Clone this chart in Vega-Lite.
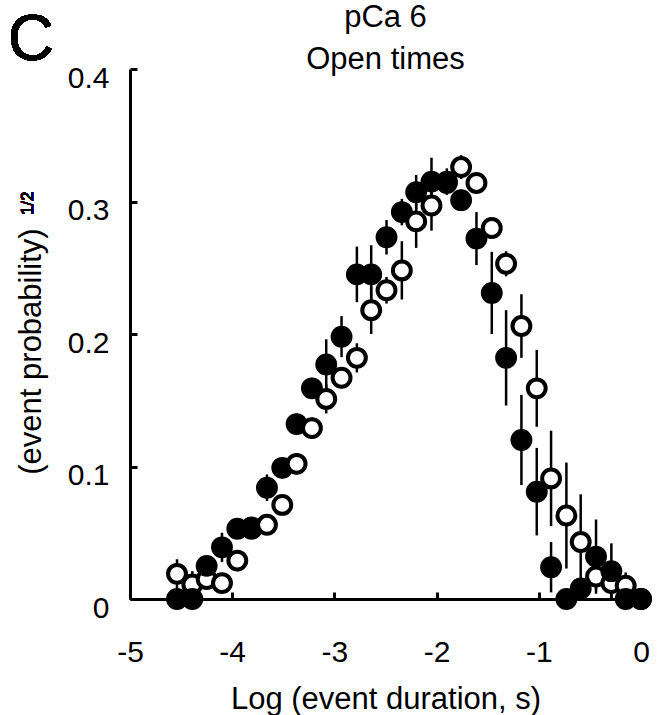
{
  "$schema": "https://vega.github.io/schema/vega-lite/v6.json",
  "width": 511,
  "height": 530,
  "autosize": "none",
  "padding": {"left": 130, "top": 69, "right": 17, "bottom": 116},
  "background": "white",
  "config": {"view": {"stroke": null}, "font": "Liberation Sans"},
  "title": {
    "text": ["pCa 6", "Open times"],
    "font": "Liberation Sans",
    "fontSize": 31,
    "fontWeight": "normal",
    "color": "black",
    "anchor": "middle",
    "frame": "group",
    "lineHeight": 42,
    "offset": -67
  },
  "data": {
    "values": [
      {"series": "open", "x": -4.54, "y": 0.019, "err": 0.011},
      {"series": "filled", "x": -4.54, "y": 0, "err": 0},
      {"series": "open", "x": -4.39, "y": 0.011, "err": 0.010},
      {"series": "filled", "x": -4.39, "y": 0, "err": 0},
      {"series": "open", "x": -4.25, "y": 0.015, "err": 0.006},
      {"series": "filled", "x": -4.25, "y": 0.025, "err": 0.006},
      {"series": "open", "x": -4.10, "y": 0.012, "err": 0.006},
      {"series": "filled", "x": -4.10, "y": 0.039, "err": 0.011},
      {"series": "open", "x": -3.95, "y": 0.029, "err": 0.008},
      {"series": "filled", "x": -3.95, "y": 0.053, "err": 0.006},
      {"series": "open", "x": -3.81, "y": 0.053, "err": 0.006},
      {"series": "filled", "x": -3.81, "y": 0.054, "err": 0.006},
      {"series": "open", "x": -3.66, "y": 0.056, "err": 0.006},
      {"series": "filled", "x": -3.66, "y": 0.084, "err": 0.010},
      {"series": "open", "x": -3.51, "y": 0.071, "err": 0.006},
      {"series": "filled", "x": -3.51, "y": 0.099, "err": 0.008},
      {"series": "open", "x": -3.37, "y": 0.102, "err": 0.008},
      {"series": "filled", "x": -3.37, "y": 0.132, "err": 0.008},
      {"series": "open", "x": -3.22, "y": 0.129, "err": 0.008},
      {"series": "filled", "x": -3.22, "y": 0.159, "err": 0.008},
      {"series": "open", "x": -3.08, "y": 0.151, "err": 0.011},
      {"series": "filled", "x": -3.08, "y": 0.177, "err": 0.019},
      {"series": "open", "x": -2.93, "y": 0.167, "err": 0.008},
      {"series": "filled", "x": -2.93, "y": 0.198, "err": 0.0155},
      {"series": "open", "x": -2.78, "y": 0.182, "err": 0.011},
      {"series": "filled", "x": -2.78, "y": 0.245, "err": 0.021},
      {"series": "open", "x": -2.64, "y": 0.218, "err": 0.018},
      {"series": "filled", "x": -2.64, "y": 0.245, "err": 0.022},
      {"series": "open", "x": -2.49, "y": 0.233, "err": 0.010},
      {"series": "filled", "x": -2.49, "y": 0.273, "err": 0.013},
      {"series": "open", "x": -2.34, "y": 0.248, "err": 0.022},
      {"series": "filled", "x": -2.34, "y": 0.292, "err": 0.010},
      {"series": "open", "x": -2.20, "y": 0.285, "err": 0.020},
      {"series": "filled", "x": -2.20, "y": 0.307, "err": 0.013},
      {"series": "open", "x": -2.05, "y": 0.297, "err": 0.019},
      {"series": "filled", "x": -2.05, "y": 0.315, "err": 0.018},
      {"series": "open", "x": -1.90, "y": 0.314, "err": 0.008},
      {"series": "filled", "x": -1.90, "y": 0.315, "err": 0.010},
      {"series": "open", "x": -1.76, "y": 0.326, "err": 0.009},
      {"series": "filled", "x": -1.76, "y": 0.301, "err": 0.008},
      {"series": "open", "x": -1.61, "y": 0.314, "err": 0.006},
      {"series": "filled", "x": -1.61, "y": 0.272, "err": 0.020},
      {"series": "open", "x": -1.46, "y": 0.280, "err": 0.008},
      {"series": "filled", "x": -1.46, "y": 0.231, "err": 0.031},
      {"series": "open", "x": -1.32, "y": 0.253, "err": 0.0095},
      {"series": "filled", "x": -1.32, "y": 0.182, "err": 0.036},
      {"series": "open", "x": -1.17, "y": 0.206, "err": 0.024},
      {"series": "filled", "x": -1.17, "y": 0.120, "err": 0.034},
      {"series": "open", "x": -1.02, "y": 0.159, "err": 0.029},
      {"series": "filled", "x": -1.02, "y": 0.081, "err": 0.033},
      {"series": "open", "x": -0.88, "y": 0.091, "err": 0.036},
      {"series": "filled", "x": -0.88, "y": 0.024, "err": 0.019},
      {"series": "open", "x": -0.73, "y": 0.063, "err": 0.040},
      {"series": "filled", "x": -0.73, "y": 0, "err": 0},
      {"series": "open", "x": -0.59, "y": 0.043, "err": 0.036},
      {"series": "filled", "x": -0.59, "y": 0.008, "err": 0.008},
      {"series": "open", "x": -0.44, "y": 0.017, "err": 0.010},
      {"series": "filled", "x": -0.44, "y": 0.032, "err": 0.028},
      {"series": "open", "x": -0.29, "y": 0.012, "err": 0.012},
      {"series": "filled", "x": -0.29, "y": 0.021, "err": 0.021},
      {"series": "open", "x": -0.15, "y": 0.010, "err": 0.010},
      {"series": "filled", "x": -0.15, "y": 0, "err": 0},
      {"series": "open", "x": 0.0, "y": 0, "err": 0},
      {"series": "filled", "x": 0.0, "y": 0, "err": 0}
    ]
  },
  "encoding": {
    "x": {
      "field": "x",
      "type": "quantitative",
      "scale": {"domain": [-5, 0], "nice": false, "zero": false},
      "axis": {
        "values": [-5, -4, -3, -2, -1, 0],
        "title": "Log (event duration, s)",
        "labelExpr": "'' + datum.value",
        "grid": false,
        "domainColor": "black",
        "domainWidth": 3,
        "tickColor": "black",
        "tickWidth": 3,
        "tickSize": -7,
        "labelFont": "Liberation Sans",
        "labelFontSize": 30,
        "labelColor": "black",
        "labelBaseline": "top",
        "labelPadding": 45,
        "labelFlush": false,
        "labelOverlap": false,
        "titleFont": "Liberation Sans",
        "titleFontSize": 31,
        "titleFontWeight": "normal",
        "titleColor": "black",
        "titleBaseline": "alphabetic",
        "titleY": 109
      }
    },
    "y": {
      "field": "y",
      "type": "quantitative",
      "scale": {"domain": [0, 0.4], "nice": false, "zero": false},
      "axis": {
        "values": [0, 0.1, 0.2, 0.3, 0.4],
        "title": "(event probability)",
        "labelExpr": "'' + datum.value",
        "grid": false,
        "domainColor": "black",
        "domainWidth": 3,
        "tickColor": "black",
        "tickWidth": 3,
        "tickSize": -7,
        "labelFont": "Liberation Sans",
        "labelFontSize": 30,
        "labelColor": "black",
        "labelPadding": 28,
        "labelOffset": 9,
        "labelFlush": false,
        "labelOverlap": false,
        "titleFont": "Liberation Sans",
        "titleFontSize": 31,
        "titleFontWeight": "normal",
        "titleColor": "black",
        "titleAngle": 270,
        "titleAlign": "center",
        "titleBaseline": "alphabetic",
        "titleX": -90,
        "titleY": 282
      }
    }
  },
  "layer": [
    {
      "mark": {"type": "errorbar", "color": "black", "thickness": 2.5, "opacity": 1},
      "encoding": {"yError": {"field": "err"}}
    },
    {
      "mark": {"type": "point", "shape": "circle", "filled": true, "size": 320, "stroke": "black", "strokeWidth": 4, "opacity": 1, "fillOpacity": 1, "strokeOpacity": 1},
      "encoding": {
        "fill": {"field": "series", "type": "nominal", "scale": {"domain": ["filled", "open"], "range": ["black", "white"]}, "legend": null}
      }
    },
    {
      "mark": {"type": "text", "text": "C", "font": "Liberation Sans", "fontSize": 64, "color": "black", "align": "center", "baseline": "alphabetic"},
      "encoding": {
        "x": {"datum": -5.969, "type": "quantitative"},
        "y": {"datum": 0.4068, "type": "quantitative"}
      }
    },
    {
      "mark": {"type": "text", "text": "1/2", "font": "Liberation Sans", "fontSize": 17, "color": "black", "align": "center", "baseline": "alphabetic", "angle": 270},
      "encoding": {
        "x": {"datum": -5.945, "type": "quantitative"},
        "y": {"datum": 0.2985, "type": "quantitative"}
      }
    }
  ]
}
